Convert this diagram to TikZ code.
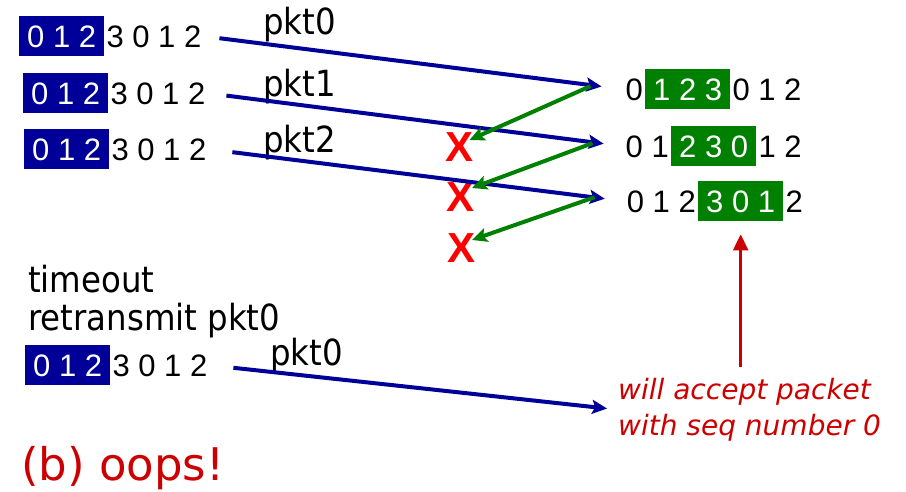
\documentclass[tikz,border=0pt]{standalone}
\usepackage{fontspec}
\setmainfont{DejaVu Sans}
\newfontfamily\seqfont{Liberation Sans}
\newfontfamily\narrowfont[FakeStretch=0.9]{DejaVu Sans}
\usepackage{tikz}
\usetikzlibrary{arrows.meta,positioning}
\definecolor{winblue}{HTML}{000099}
\definecolor{wingreen}{HTML}{008000}
\definecolor{lossred}{HTML}{FF0000}
\definecolor{notered}{HTML}{CC0000}

\begin{document}
\begin{tikzpicture}[x=1pt,y=-1pt,node distance=0pt]

\tikzset{
seq/.style={
    font=\seqfont\fontsize{31}{36}\selectfont,
    inner ysep=0pt,
    inner xsep=2pt,
    text height=31pt,
    text depth=9pt
},
win/.style={seq,inner xsep=8pt,text=white,fill=#1},
lbl/.style={font=\narrowfont\fontsize{36}{38}\selectfont,inner sep=0pt,anchor=base west},
loss/.style={
    font=\seqfont\bfseries\fontsize{42}{42}\selectfont,
    text=lossred,
    inner sep=0pt,
    text height=30pt,
    text depth=0pt
},
pkt/.style={-{Stealth[length=15pt,width=14pt,inset=3pt]},line width=4pt,color=winblue},
ack/.style={-{Stealth[length=15pt,width=14pt,inset=3pt]},line width=4pt,color=wingreen},
acc/.style={-{Triangle[length=16pt,width=15pt]},line width=2.5pt,color=notered}
}

\useasboundingbox (0,0) rectangle (906,492);

\node[win=winblue,anchor=north west] (s0win) at (19,16) {0 1 2};
\node[seq,right=of s0win] (s0rest) {3 0 1 2};
\node[win=winblue,anchor=north west] (s1win) at (23,73) {0 1 2};
\node[seq,right=of s1win] (s1rest) {3 0 1 2};
\node[win=winblue,anchor=north west] (s2win) at (24,129) {0 1 2};
\node[seq,right=of s2win] (s2rest) {3 0 1 2};

\node[lbl] (p0) at (263,35) {pkt0};
\node[lbl] (p1) at (263,97) {pkt1};
\node[lbl] (p2) at (263,153) {pkt2};

\node[win=wingreen,anchor=north west] (r0win) at (645,69) {1 2 3};
\node[seq,left=of r0win] (r0pre) {0};
\node[seq,right=of r0win] (r0post) {0 1 2};
\node[win=wingreen,anchor=north west] (r1win) at (671,126) {2 3 0};
\node[seq,left=of r1win] (r1pre) {0 1};
\node[seq,right=of r1win] (r1post) {1 2};
\node[win=wingreen,anchor=north west] (r2win) at (698,181) {3 0 1};
\node[seq,left=of r2win] (r2pre) {0 1 2};
\node[seq,right=of r2win] (r2post) {2};

\node[loss] (x0) at (459.5,147) {X};
\node[loss] (x1) at (461,197) {X};
\node[loss] (x2) at (462,247) {X};

\node[lbl,align=left,anchor=north west] (tmo) at (28,265) {timeout\\retransmit pkt0};
\node[win=winblue,anchor=north west] (s3win) at (25,345) {0 1 2};
\node[seq,right=of s3win] (s3rest) {3 0 1 2};
\node[lbl] (p3) at (270,365) {pkt0};

\node[font=\itshape\fontsize{28}{36}\selectfont,text=notered,align=left,inner sep=0pt,anchor=north west] (note) at (618,378) {will accept packet\\with seq number 0};
\node[font=\fontsize{45}{50}\selectfont,text=notered,inner sep=0pt,anchor=base west] (oops) at (21,480) {(b) oops!};

\draw[pkt,shorten <=16pt,shorten >=22pt] (s0rest.east) -- (r0pre.west);
\draw[pkt,shorten <=19pt,shorten >=20pt] (s1rest.east) -- (r1pre.west);
\draw[pkt,shorten <=24pt,shorten >=20pt] (s2rest.east) -- (r2pre.west);
\draw[pkt,shorten <=24pt,shorten >=11pt] (s3rest.east) -- (note.west);

\draw[ack] ([xshift=-33pt,yshift=3pt]r0pre.west) -- ([xshift=10pt,yshift=7pt]x0.center);
\draw[ack] ([xshift=-31pt,yshift=3pt]r1pre.west) -- ([xshift=11pt,yshift=9pt]x1.center);
\draw[ack] ([xshift=-30pt,yshift=4pt]r2pre.west) -- ([xshift=10pt,yshift=7pt]x2.center);

\draw[acc,shorten <=11pt,shorten >=13pt] (r2win.south |- note.north) -- (r2win.south);

\end{tikzpicture}
\end{document}
